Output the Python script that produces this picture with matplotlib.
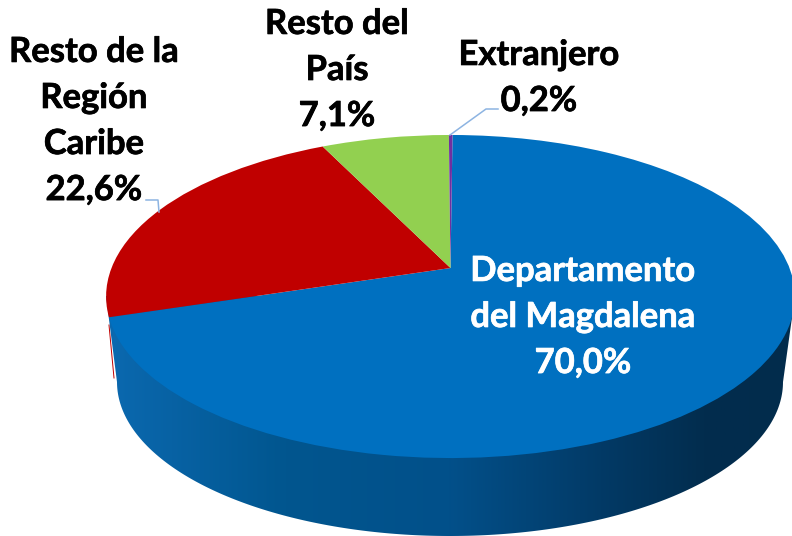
#! /usr/bin/env python3
import numpy as np
import matplotlib
matplotlib.use('Agg')
import matplotlib.pyplot as plt
from matplotlib.colors import LinearSegmentedColormap
from matplotlib.patches import Polygon
from matplotlib.transforms import Transform
import matplotlib.patheffects as pe

categories = ['Departamento\ndel Magdalena', 'Resto de la\nRegión\nCaribe', 'Resto del\nPaís', 'Extranjero']
values = [70.0, 22.6, 7.1, 0.2]
colors = ['#0070C0', '#C00000', '#92D050', '#7030A0']


class Tilt(Transform):
    # unit circle of the pie -> tilted disc in pixels
    input_dims = 2
    output_dims = 2
    has_inverse = False

    def transform_non_affine(self, values):
        xy = np.asarray(values)
        w = 1 + 0.1765 * xy[:, 1]
        return np.column_stack((450.5 + 339 * xy[:, 0] / w, 268 - 156.5 * xy[:, 1] / w))


def label(s):
    return s.replace('.', ',')


def main():
    fig = plt.figure(figsize=(7.92, 5.36), dpi=100)
    ax = fig.add_axes([0, 0, 1, 1])

    # side of the disc, shaded from left to right
    t = np.linspace(np.pi, 2 * np.pi, 200)
    edge = np.column_stack((450 - 333 * np.cos(t - np.pi), 382 - 154 * np.sin(t)))
    wall = np.vstack(([[106, 296]], edge, [[795, 296]]))
    shade = LinearSegmentedColormap.from_list('wall', [(0, '#0B69B0'), (0.26, '#01568F'), (0.5, '#02508A'),
                                                       (0.72, '#023A66'), (0.87, '#022D4E'), (1, '#022C4C')])
    img = ax.imshow(np.linspace(0, 1, 256)[None, :], extent=(105, 795, 536, 135), cmap=shade, aspect='auto', zorder=1)
    img.set_clip_path(Polygon(wall, transform=ax.transData))
    ax.plot([109, 114], [325, 378], color='#C00000', lw=0.7, zorder=0)

    wedges, _ = ax.pie(values, colors=colors, startangle=89.6, counterclock=False, radius=1)
    tilt = Tilt()
    for w in wedges:
        w.set_transform(tilt + ax.transData)
        w.set_zorder(2)

    ax.set_aspect('auto')
    ax.set_xlim(0, 792)
    ax.set_ylim(536, 0)
    ax.axis('off')

    # leader lines
    ax.plot([450, 486, 498], [135, 109, 109], color='#8DB4E2', lw=1.1, zorder=3)
    ax.plot([146, 158, 159], [200, 200, 212], color='#8DB4E2', lw=1.1, zorder=3)

    places = [(583, 317), (94, 121), (337, 70), (539, 78)]
    for name, v, (x, y), c in zip(categories, values, places, ['white', 'black', 'black', 'black']):
        txt = ax.text(x, y, '{}\n{}%'.format(name, label('{:.1f}'.format(v))), ha='center', va='center', color=c,
                      family='Lato', weight='bold', fontsize=24.9, linespacing=1.54, zorder=4)
        txt.set_path_effects([pe.withStroke(linewidth=0.5, foreground=c)])

    fig.savefig('out.png', dpi=100)


main()
